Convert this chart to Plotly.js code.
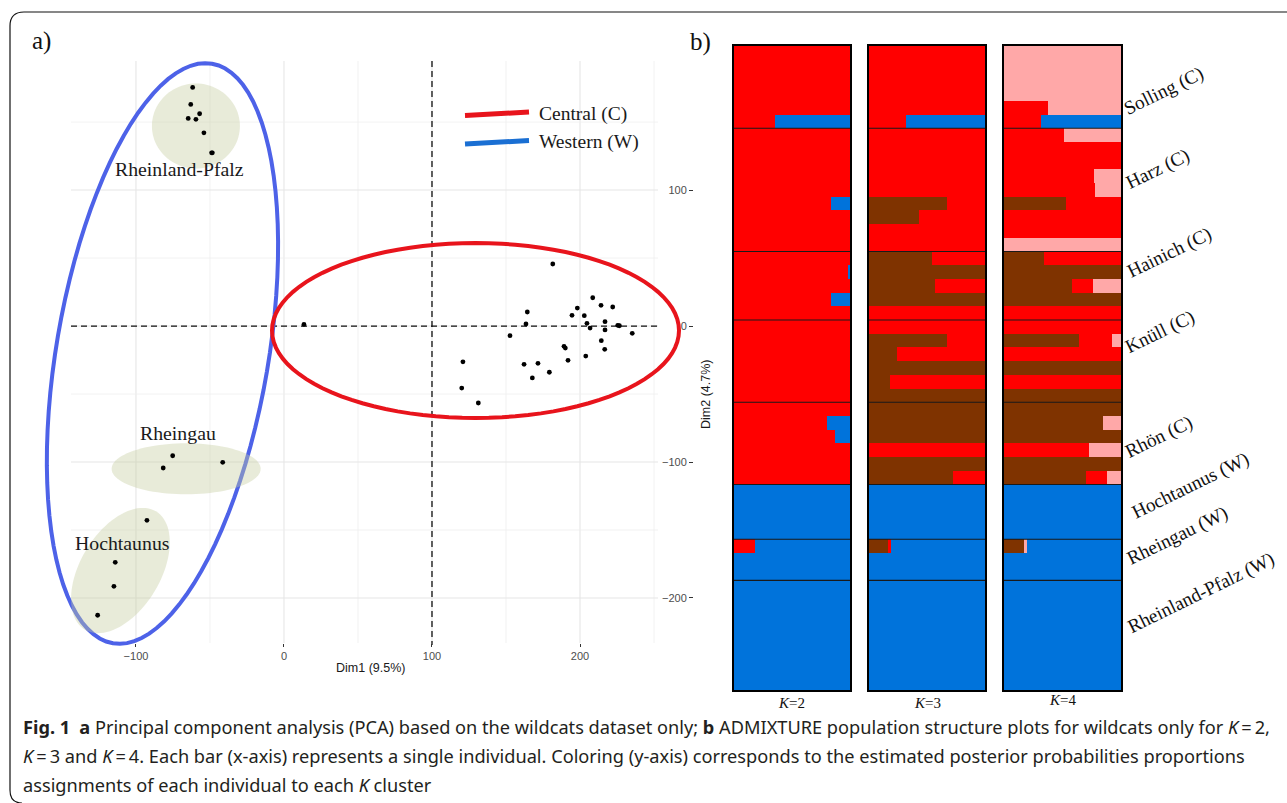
<!DOCTYPE html>
<html>
<head>
<meta charset="utf-8">
<script src="https://cdn.plot.ly/plotly-3.0.1.min.js"></script>
<style>html,body{margin:0;padding:0;background:#fff;}#chart{width:1287px;height:803px;}</style>
</head>
<body>
<div id="chart"></div>
<script>
// ---------------- DATA: PCA (panel a) ----------------
const centralX = [13.5,181.6,208.6,214.2,222.1,198.2,194.6,202.9,164.4,163.5,204.7,216.9,206.8,225.5,226.6,216.9,235.3,152.7,214.4,189.2,190.1,216.7,203.9,191.9,120.9,162.2,171.6,179.3,167.8,120.1,131.3];
const centralY = [1.2,45.6,20.8,15.2,14.0,13.2,7.9,7.6,10.3,1.5,2.0,3.2,-1.5,0.5,0.2,-2.9,-5.4,-7.1,-10.8,-14.9,-16.2,-17.1,-22.1,-25.2,-26.3,-28.2,-27.4,-34.0,-38.2,-45.6,-56.6];
const rheinlandX = [-61.7,-63.0,-57.0,-64.7,-59.5,-54.1,-48.4,-48.9];
const rheinlandY = [175.5,163.0,156.1,152.7,152.0,142.1,127.4,127.4];
const rheingauX = [-75.2,-81.6,-41.4];
const rheingauY = [-95.4,-104.4,-100.2];
const hochtaunusX = [-92.6,-114.0,-114.9,-125.9];
const hochtaunusY = [-142.9,-173.8,-191.4,-212.7];
const xTickVals = [-100,0,100,200];
const yTickVals = [-200,-100,0,100];
const gridStep = 50;
const legendNames = ['Central (C)','Western (W)'];
const groupLabels = ['Rheinland-Pfalz','Rheingau','Hochtaunus'];

// ---------------- DATA: ADMIXTURE (panel b) ----------------
const popNames = ['Solling (C)','Harz (C)','Hainich (C)','Knüll (C)','Rhön (C)','Hochtaunus (W)','Rheingau (W)','Rheinland-Pfalz (W)'];
const popSizes = [6,9,5,6,6,4,3,8];
const kLabels = ['K=2','K=3','K=4'];
// K=2 : red, blue
const k2Red  = [1,1,1,1,1,0.35, 1,1,1,1,1,0.84,1,1,1, 1,0.98,1,0.84,1, 1,1,1,1,1,1, 1,0.80,0.87,1,1,1, 0,0,0,0, 0.18,0,0, 0,0,0,0,0,0,0,0];
const k2Blue = [0,0,0,0,0,0.65, 0,0,0,0,0,0.16,0,0,0, 0,0.02,0,0.16,0, 0,0,0,0,0,0, 0,0.20,0.13,0,0,0, 1,1,1,1, 0.82,1,1, 1,1,1,1,1,1,1,1];
// K=3 : brown, red, blue
const k3Brown= [0,0,0,0,0,0, 0,0,0,0,0,0.67,0.43,0,0, 0.54,1,0.57,1,0, 0,0.67,0.24,1,0.18,1, 1,1,1,0,1,0.72, 0,0,0,0, 0.16,0,0, 0,0,0,0,0,0,0,0];
const k3Red  = [1,1,1,1,1,0.32, 1,1,1,1,1,0.33,0.57,1,1, 0.46,0,0.43,0,1, 1,0.33,0.76,0,0.82,0, 0,0,0,1,0,0.28, 0,0,0,0, 0.03,0,0, 0,0,0,0,0,0,0,0];
const k3Blue = [0,0,0,0,0,0.68, 0,0,0,0,0,0,0,0,0, 0,0,0,0,0, 0,0,0,0,0,0, 0,0,0,0,0,0, 1,1,1,1, 0.81,1,1, 1,1,1,1,1,1,1,1];
// K=4 : brown, red, pink, blue
const k4Brown= [0,0,0,0,0,0, 0,0,0,0,0,0.53,0,0,0, 0.34,1,0.58,1,0, 0,0.64,0,1,0,1, 1,0.85,1,0,1,0.70, 0,0,0,0, 0.17,0,0, 0,0,0,0,0,0,0,0];
const k4Red  = [0,0,0,0,0.38,0.32, 0.51,1,1,0.77,0.78,0.47,1,1,0, 0.66,0,0.18,0,1, 1,0.28,1,0,1,0, 0,0,0,0.73,0,0.18, 0,0,0,0, 0,0,0, 0,0,0,0,0,0,0,0];
const k4Pink = [1,1,1,1,0.62,0, 0.49,0,0,0.23,0.22,0,0,0,1, 0,0,0.24,0,0, 0,0.08,0,0,0,0, 0,0.15,0,0.27,0,0.12, 0,0,0,0, 0.03,0,0, 0,0,0,0,0,0,0,0];
const k4Blue = [0,0,0,0,0,0.68, 0,0,0,0,0,0,0,0,0, 0,0,0,0,0, 0,0,0,0,0,0, 0,0,0,0,0,0, 1,1,1,1, 0.80,1,1, 1,1,1,1,1,1,1,1];

// ---------------- STYLE / GEOMETRY ----------------
const W = 1287, H = 803;
const C = {red:'#FF0000', blue:'#0073DB', brown:'#7F3300', pink:'#FFA8A8'};
const serif = 'Liberation Serif, Times New Roman, serif';
const sans = 'Liberation Sans, Arial, sans-serif';
const capFont = 'Noto Sans, Open Sans, sans-serif';
const PX = (p)=>p/W, PY = (p)=>1-p/H;

// PCA panel geometry (pixels)
const pX0=71, pX1=658, pY0=61, pY1=643;
const xR=[-143.9,252.7], yR=[-233.1,194.9];
const dx2px = v => pX0 + (v-xR[0])/(xR[1]-xR[0])*(pX1-pX0);
const dy2px = v => pY1 - (v-yR[0])/(yR[1]-yR[0])*(pY1-pY0);

function ellipsePath(cx, cy, a, b, angDeg){
  const th = angDeg*Math.PI/180;
  const ux=Math.sin(th), uy=-Math.cos(th), vx=Math.cos(th), vy=Math.sin(th);
  const cpx=dx2px(cx), cpy=dy2px(cy);
  const pts=[];
  for(let i=0;i<=96;i++){
    const t=i/96*2*Math.PI;
    const x=cpx + a*Math.cos(t)*ux + b*Math.sin(t)*vx;
    const y=cpy + a*Math.cos(t)*uy + b*Math.sin(t)*vy;
    pts.push(PX(x).toFixed(5)+','+PY(y).toFixed(5));
  }
  return 'M'+pts.join('L')+'Z';
}

const shapes = [];
// gridlines (manual so that ellipses sit above them)
for(let v=-100; v<=250; v+=gridStep){
  const major = xTickVals.includes(v);
  shapes.push({type:'line', layer:'below', xref:'paper', yref:'paper', x0:PX(dx2px(v)), x1:PX(dx2px(v)), y0:PY(pY0), y1:PY(pY1),
    line:{color: major?'#e6e6e6':'#efefef', width: major?1.1:0.8}});
}
for(let v=-200; v<=150; v+=gridStep){
  const major = yTickVals.includes(v);
  shapes.push({type:'line', layer:'below', xref:'paper', yref:'paper', x0:PX(pX0), x1:PX(pX1), y0:PY(dy2px(v)), y1:PY(dy2px(v)),
    line:{color: major?'#e6e6e6':'#efefef', width: major?1.1:0.8}});
}
// dashed reference lines
shapes.push({type:'line', layer:'below', xref:'paper', yref:'paper', x0:PX(dx2px(100)), x1:PX(dx2px(100)), y0:PY(pY0), y1:PY(pY1+2), line:{color:'#111', width:1.3, dash:'6px,4px'}});
shapes.push({type:'line', layer:'below', xref:'paper', yref:'paper', x0:PX(pX0), x1:PX(pX1), y0:PY(dy2px(0)), y1:PY(dy2px(0)), line:{color:'#111', width:1.3, dash:'6px,4px'}});
// group ellipses
shapes.push({type:'path', layer:'below', xref:'paper', yref:'paper', path:ellipsePath(-82.1,-20.2,294,106,9.7), line:{color:'#4D62E8', width:4}});
shapes.push({type:'path', layer:'below', xref:'paper', yref:'paper', path:ellipsePath(129.4,-3.3,203.5,87.5,90), line:{color:'#E8141C', width:4}});
const greenFill = 'rgba(198,206,160,0.40)';
shapes.push({type:'path', layer:'below', xref:'paper', yref:'paper', path:ellipsePath(-59.5,147.1,42.5,44,0), fillcolor:greenFill, line:{width:0}});
shapes.push({type:'path', layer:'below', xref:'paper', yref:'paper', path:ellipsePath(-66.1,-105,74.5,25.5,90), fillcolor:greenFill, line:{width:0}});
shapes.push({type:'path', layer:'below', xref:'paper', yref:'paper', path:ellipsePath(-110.5,-179.8,69,40,31), fillcolor:greenFill, line:{width:0}});
// legend keys
shapes.push({type:'line', xref:'paper', yref:'paper', x0:PX(465), x1:PX(529), y0:PY(115.5), y1:PY(112), line:{color:'#E8141C', width:5}});
shapes.push({type:'line', xref:'paper', yref:'paper', x0:PX(465), x1:PX(529), y0:PY(144), y1:PY(140.5), line:{color:'#1A6FD3', width:5}});
// outer frame
shapes.push({type:'path', xref:'paper', yref:'paper',
  path:`M${PX(1300)},${PY(12)}L${PX(24)},${PY(12)}Q${PX(10)},${PY(12)} ${PX(10)},${PY(26)}L${PX(10)},${PY(790)}Q${PX(10)},${PY(803)} ${PX(22)},${PY(803)}`,
  line:{color:'#111', width:1.2}});

// ADMIXTURE geometry
const colPx = [[734,850],[869,985],[1004,1121]];
const barTop=46, barBot=690;
const nInd = popSizes.reduce((a,b)=>a+b,0);
// population separators
let cum=0; const bounds=[];
popSizes.forEach((s,i)=>{cum+=s; if(i<popSizes.length-1) bounds.push(cum-0.5);});
['x2','x3','x4'].forEach((xa,k)=>{
  const ya = ['y2','y3','y4'][k];
  bounds.forEach(b=>shapes.push({type:'line', xref:xa+' domain', yref:ya, x0:0, x1:1, y0:b, y1:b, line:{color:'#1a1a1a', width:1.1}}));
});

// ---------------- TRACES ----------------
const idx = Array.from({length:nInd},(_,i)=>i);
const traces = [];
const ptStyle = {mode:'markers', type:'scatter', xaxis:'x', yaxis:'y', marker:{color:'#000', size:4.8}, showlegend:false, hoverinfo:'skip'};
traces.push(Object.assign({x:centralX, y:centralY}, ptStyle));
traces.push(Object.assign({x:rheinlandX, y:rheinlandY}, ptStyle));
traces.push(Object.assign({x:rheingauX, y:rheingauY}, ptStyle));
traces.push(Object.assign({x:hochtaunusX, y:hochtaunusY}, ptStyle));

function bar(vals, color, xa, ya){
  return {type:'bar', orientation:'h', x:vals, y:idx, xaxis:xa, yaxis:ya, width:1,
    marker:{color:color, line:{width:0}}, showlegend:false, hoverinfo:'skip'};
}
traces.push(bar(k2Red,C.red,'x2','y2'), bar(k2Blue,C.blue,'x2','y2'));
traces.push(bar(k3Brown,C.brown,'x3','y3'), bar(k3Red,C.red,'x3','y3'), bar(k3Blue,C.blue,'x3','y3'));
traces.push(bar(k4Brown,C.brown,'x4','y4'), bar(k4Red,C.red,'x4','y4'), bar(k4Pink,C.pink,'x4','y4'), bar(k4Blue,C.blue,'x4','y4'));

// ---------------- ANNOTATIONS ----------------
const ann = [];
const A = (text, x, y, opt) => ann.push(Object.assign({text:text, xref:'paper', yref:'paper', x:PX(x), y:PY(y), showarrow:false, xanchor:'center', yanchor:'middle'}, opt||{}));
A('a)', 41, 41, {font:{family:serif, size:25, color:'#111'}});
A('b)', 700, 42, {font:{family:serif, size:25, color:'#111'}});
// group labels (data anchored)
const glPos = [[-70.3,115.4],[-71.6,-78.7],[-108.8,-159.6]];
groupLabels.forEach((t,i)=>ann.push({text:t, xref:'x', yref:'y', x:glPos[i][0], y:glPos[i][1], showarrow:false, font:{family:serif, size:19.8, color:'#1a1a1a'}}));
// legend texts
A(legendNames[0], 537, 114, {xanchor:'left', font:{family:serif, size:19.5, color:'#1a1a1a'}});
A(legendNames[1], 537, 142, {xanchor:'left', font:{family:serif, size:19.5, color:'#1a1a1a'}});
// axis titles
A('Dim1 (9.5%)', 370, 668, {font:{family:sans, size:12.5, color:'#1a1a1a'}});
A('Dim2 (4.7%)', 706, 395, {textangle:-90, font:{family:sans, size:12.5, color:'#1a1a1a'}});
// population labels
const popLabPos = [[1164,91],[1158,169],[1169,253],[1160,332],[1159,437],[1190,486],[1177,536],[1201,593]];
popNames.forEach((t,i)=>A(t, popLabPos[i][0], popLabPos[i][1], {textangle:-26, font:{family:serif, size:19.2, color:'#111'}}));
// K labels
const kPos = [[791,703],[927,703],[1062,700]];
kLabels.forEach((t,i)=>A('<i>K</i>='+t.split('=')[1], kPos[i][0], kPos[i][1], {font:{family:serif, size:15, color:'#111'}}));
// caption
const capStyle = {xanchor:'left', font:{family:capFont, size:18.2, color:'#231F20'}};
A('<b>Fig. 1</b>\u2002<b>a</b> Principal component analysis (PCA) based on the wildcats dataset only; <b>b</b> ADMIXTURE population structure plots for wildcats only for <i>K</i>\u2009=\u20092,', 21, 727, capStyle);
A('<i>K</i>\u2009=\u20093 and <i>K</i>\u2009=\u20094. Each bar (x-axis) represents a single individual. Coloring (y-axis) corresponds to the estimated posterior probabilities proportions', 21, 756, capStyle);
A('assignments of each individual to each <i>K</i> cluster', 21, 785, capStyle);

// ---------------- LAYOUT ----------------
const hideAx = {showticklabels:false, showgrid:false, zeroline:false, ticks:'', showline:true, mirror:true, linecolor:'#000', linewidth:2.4, fixedrange:true};
const layout = {
  width:W, height:H, margin:{l:0,r:0,t:0,b:0}, paper_bgcolor:'#fff', plot_bgcolor:'rgba(0,0,0,0)',
  showlegend:false, barmode:'stack', bargap:0,
  xaxis:{domain:[PX(pX0),PX(pX1)], range:xR, tickvals:xTickVals, showgrid:false, zeroline:false, showline:false,
    ticks:'outside', ticklen:3, tickwidth:1, tickcolor:'#333', tickfont:{family:sans, size:11, color:'#4d4d4d'}, anchor:'y'},
  yaxis:{domain:[PY(pY1),PY(pY0)], range:yR, tickvals:yTickVals, showgrid:false, zeroline:false, showline:false,
    anchor:'free', position:PX(693), side:'left', ticks:'outside', ticklen:4, tickwidth:1, tickcolor:'#333',
    tickfont:{family:sans, size:11, color:'#4d4d4d'}},
  xaxis2:Object.assign({domain:[PX(colPx[0][0]),PX(colPx[0][1])], range:[0,1], anchor:'y2'}, hideAx),
  xaxis3:Object.assign({domain:[PX(colPx[1][0]),PX(colPx[1][1])], range:[0,1], anchor:'y3'}, hideAx),
  xaxis4:Object.assign({domain:[PX(colPx[2][0]),PX(colPx[2][1])], range:[0,1], anchor:'y4'}, hideAx),
  yaxis2:Object.assign({domain:[PY(barBot),PY(barTop)], range:[nInd-0.5,-0.5], anchor:'x2'}, hideAx),
  yaxis3:Object.assign({domain:[PY(barBot),PY(barTop)], range:[nInd-0.5,-0.5], anchor:'x3'}, hideAx),
  yaxis4:Object.assign({domain:[PY(barBot),PY(barTop)], range:[nInd-0.5,-0.5], anchor:'x4'}, hideAx),
  shapes:shapes, annotations:ann
};
Plotly.newPlot('chart', traces, layout, {displayModeBar:false, staticPlot:true});
</script>
</body>
</html>
